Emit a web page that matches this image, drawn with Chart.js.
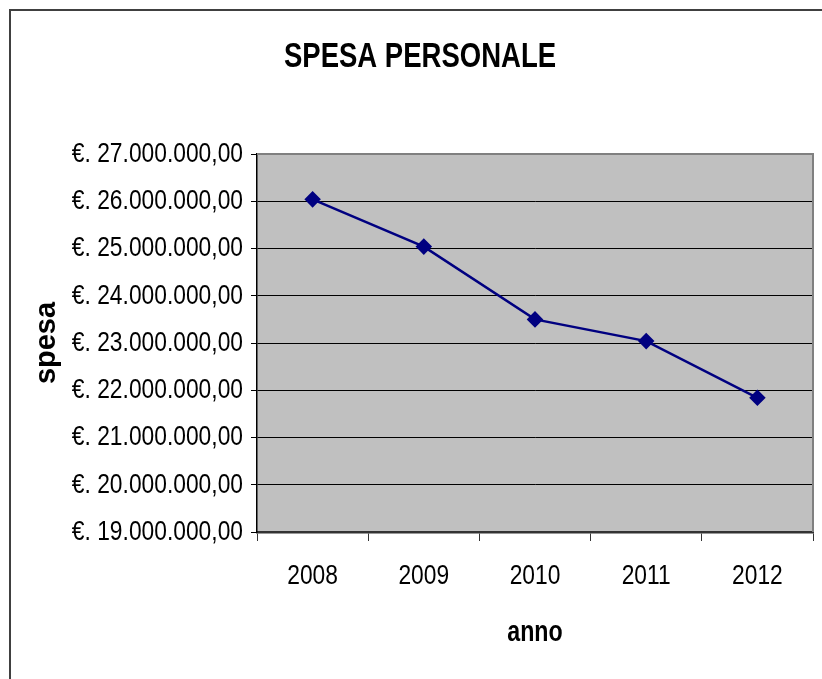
<!DOCTYPE html>
<html>
<head>
<meta charset="utf-8">
<script src="https://cdn.jsdelivr.net/npm/chart.js@4"></script>
<style>
  html, body { margin: 0; padding: 0; background: #fff; }
  #wrap { width: 822px; height: 679px; position: relative; }
</style>
</head>
<body>
<div id="wrap"><canvas id="c" width="822" height="679"></canvas></div>
<script>
// ---- data ----
const chartTitle = 'SPESA PERSONALE';
const xTitle = 'anno';
const yTitle = 'spesa';
const categories = ['2008', '2009', '2010', '2011', '2012'];
const spesaValues = [26040000, 25040000, 23500000, 23040000, 21840000];
const yMin = 19000000;
const yMax = 27000000;
const yStep = 1000000;

function fmtEuro(v) {
  const s = Math.round(v).toString().replace(/\B(?=(\d{3})+(?!\d))/g, '.');
  return '€. ' + s + ',00';
}

const FONT = "'Liberation Sans', Arial, sans-serif";
const NARROW_X = 0.8; // horizontal text is drawn condensed, like the original

// condensed horizontal text: wrap the 2D context text calls
const canvas = document.getElementById('c');
const ctx2d = canvas.getContext('2d');
const origFill = ctx2d.fillText.bind(ctx2d);
const origMeasure = ctx2d.measureText.bind(ctx2d);
function isHorizontal(c) {
  const t = c.getTransform();
  return Math.abs(t.b) < 1e-6 && Math.abs(t.c) < 1e-6;
}
ctx2d.fillText = function (text, x, y, maxWidth) {
  if (!isHorizontal(this)) {
    return maxWidth !== undefined ? origFill(text, x, y, maxWidth) : origFill(text, x, y);
  }
  this.save();
  this.translate(x, y);
  this.scale(NARROW_X, 1);
  if (maxWidth !== undefined) origFill(text, 0, 0, maxWidth / NARROW_X);
  else origFill(text, 0, 0);
  this.restore();
};
ctx2d.measureText = function (text) {
  const m = origMeasure(text);
  return {
    width: m.width * NARROW_X,
    actualBoundingBoxAscent: m.actualBoundingBoxAscent,
    actualBoundingBoxDescent: m.actualBoundingBoxDescent,
    actualBoundingBoxLeft: m.actualBoundingBoxLeft * NARROW_X,
    actualBoundingBoxRight: m.actualBoundingBoxRight * NARROW_X,
    fontBoundingBoxAscent: m.fontBoundingBoxAscent,
    fontBoundingBoxDescent: m.fontBoundingBoxDescent
  };
};

const framePlugin = {
  id: 'frame',
  afterLayout(chart) {
    const tb = chart.titleBlock;
    if (tb && !tb._patched) {
      const orig = tb.draw.bind(tb);
      tb.draw = function (area) {
        const c = chart.ctx;
        c.save();
        c.translate(12, 0);
        orig(area);
        c.restore();
      };
      tb._patched = true;
    }
  },
  beforeDraw(chart) {
    const ctx = chart.ctx;
    const a = chart.chartArea;
    ctx.save();
    ctx.fillStyle = '#fff';
    ctx.fillRect(0, 0, chart.width, chart.height);
    // outer frame (top and left)
    ctx.strokeStyle = '#404040';
    ctx.lineWidth = 2;
    ctx.beginPath();
    ctx.moveTo(10, chart.height + 2);
    ctx.lineTo(10, 10);
    ctx.lineTo(chart.width + 2, 10);
    ctx.stroke();
    // plot background
    ctx.fillStyle = '#C0C0C0';
    ctx.fillRect(a.left, a.top, a.right - a.left, a.bottom - a.top);
    ctx.restore();
  },
  beforeDatasetsDraw(chart) {
    const ctx = chart.ctx;
    const a = chart.chartArea;
    ctx.save();
    ctx.strokeStyle = '#808080';
    ctx.lineWidth = 2;
    ctx.beginPath();
    ctx.moveTo(a.left, a.top);
    ctx.lineTo(a.right, a.top);
    ctx.lineTo(a.right, a.bottom);
    ctx.stroke();
    ctx.restore();
  }
};

new Chart(canvas, {
  type: 'line',
  data: {
    labels: categories,
    datasets: [{
      label: yTitle,
      data: spesaValues,
      borderColor: '#000080',
      backgroundColor: '#000080',
      borderWidth: 2.5,
      pointStyle: 'rectRot',
      pointRadius: 6.5,
      pointHoverRadius: 6.5,
      pointBackgroundColor: '#000080',
      pointBorderColor: '#000080',
      tension: 0,
      fill: false
    }]
  },
  options: {
    responsive: false,
    animation: false,
    devicePixelRatio: 1,
    layout: { padding: { left: 0, right: 6, top: 0, bottom: 0 } },
    plugins: {
      legend: { display: false },
      tooltip: { enabled: false },
      title: {
        display: true,
        text: chartTitle,
        color: '#000',
        font: { family: FONT, size: 34.4, weight: 'bold', lineHeight: 1 },
        padding: { top: 40, bottom: 79.6 }
      }
    },
    scales: {
      x: {
        type: 'category',
        offset: true,
        grid: {
          offset: true,
          drawOnChartArea: false,
          drawTicks: true,
          tickLength: 9,
          color: '#333',
          lineWidth: 1
        },
        border: { display: true, color: '#333', width: 2.5 },
        ticks: {
          color: '#000',
          font: { family: FONT, size: 28.5 },
          padding: 18,
          maxRotation: 0
        },
        title: {
          display: true,
          text: xTitle,
          color: '#000',
          font: { family: FONT, size: 29, weight: 'bold', lineHeight: 1.2 },
          padding: { top: 0, bottom: 29 }
        },
        afterFit(scale) { scale.height = 147; }
      },
      y: {
        min: yMin,
        max: yMax,
        grid: {
          color: (c) => (c.tick && c.tick.value === yMax) ? '#808080' : '#000',
          tickColor: '#000',
          lineWidth: 1,
          drawTicks: true,
          tickLength: 6
        },
        border: { display: true, color: '#000', width: 1.5 },
        ticks: {
          stepSize: yStep,
          color: '#000',
          font: { family: FONT, size: 28.5 },
          padding: 8,
          callback: (v) => fmtEuro(v)
        },
        title: {
          display: true,
          text: yTitle,
          color: '#000',
          font: { family: FONT, size: 29, weight: 'bold', lineHeight: 1.2 },
          padding: { top: 29.6, bottom: 0 }
        },
        afterFit(scale) { scale.width = 257; }
      }
    }
  },
  plugins: [framePlugin]
});
</script>
</body>
</html>
